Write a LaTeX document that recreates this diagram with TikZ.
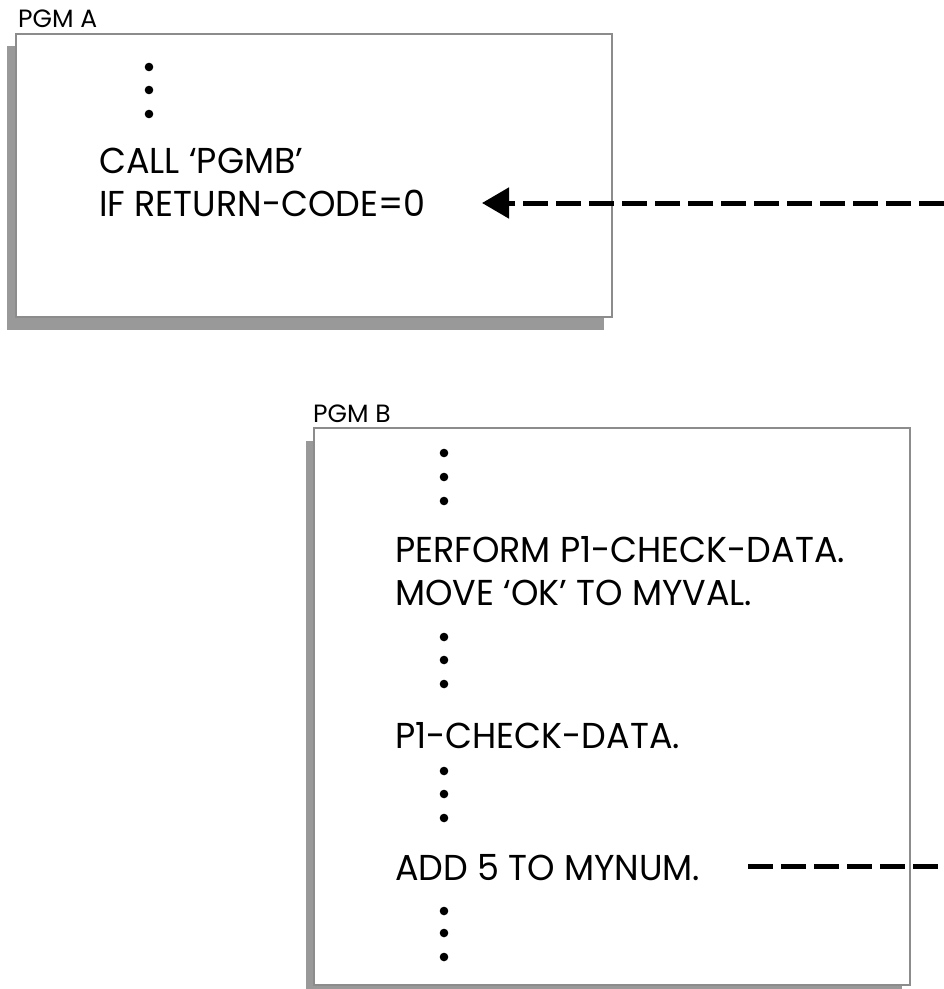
\documentclass[tikz,border=0pt]{standalone}
\usepackage{fontspec}
\setmainfont{Poppins}
\newfontfamily\codefont[FakeStretch=0.97]{Poppins}
\usetikzlibrary{arrows.meta}
\definecolor{framegray}{gray}{0.55}
\definecolor{shadowgray}{gray}{0.6}
\begin{document}
\begin{tikzpicture}[x=1pt,y=-1pt,
  code/.style={anchor=base west,inner sep=0pt,font=\codefont\fontsize{36}{43}\selectfont},
  lbl/.style={anchor=base west,inner sep=0pt,font=\fontsize{25}{28}\selectfont},
  dashline/.style={line width=5pt,dash pattern=on 25pt off 8pt},
  boxshadow/.style={fill=shadowgray,draw=none},
  boxframe/.style={fill=white,draw=framegray,line width=1.5pt}]
\useasboundingbox (0,0) rectangle (944,989);
% PGM A box
\fill[boxshadow] (7,46) rectangle (604,330);
\filldraw[boxframe] (16,34) rectangle (612,317);
% PGM B box
\fill[boxshadow] (306,441) rectangle (902,989);
\filldraw[boxframe] (314,428) rectangle (910,985);
% labels
\node[lbl] (pgma) at (18,27) {PGM A};
\node[lbl] (pgmb) at (313,422) {PGM B};
% PGM A contents
\foreach \y in {67,90,114} \fill (149,\y) circle (4.3);
\node[code] (call) at (99,173) {CALL ‘PGMB’};
\node[code] (ifrc) at (99,216) {IF RETURN-CODE=0};
% PGM B contents
\foreach \y in {453,477,501} \fill (444,\y) circle (4.3);
\node[code] (perf) at (395,562) {PERFORM P1-CHECK-DATA.};
\node[code] (move) at (395,605) {MOVE ‘OK’ TO MYVAL.};
\foreach \y in {637,660,684} \fill (444,\y) circle (4.3);
\node[code] (p1) at (395,748) {P1-CHECK-DATA.};
\foreach \y in {771,794,818} \fill (444,\y) circle (4.3);
\node[code] (add) at (395,880) {ADD 5 TO MYNUM.};
\foreach \y in {911,933,957} \fill (444,\y) circle (4.3);
% connectors
\coordinate (aR) at (944,203);
\coordinate (aT) at (482,203);
\draw[dashline,-{Triangle[length=27pt,width=30pt]}] (aR) -- (aT);
\coordinate (dL) at (748,866);
\coordinate (dR) at (944,866);
\draw[dashline] (dL) -- (dR);
\end{tikzpicture}
\end{document}
